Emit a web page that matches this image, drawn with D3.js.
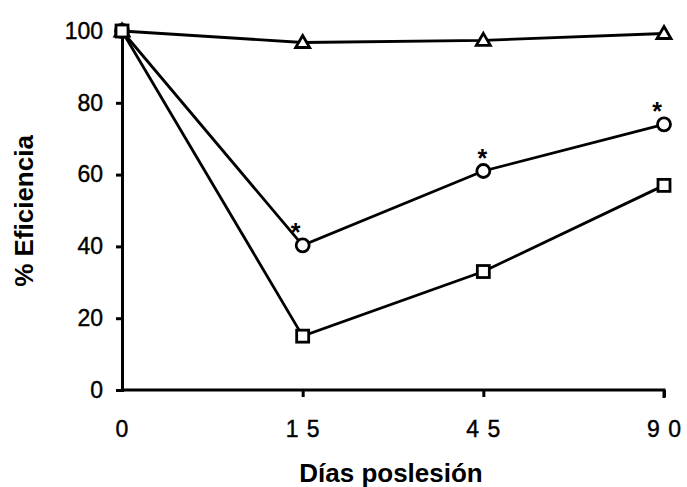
<!DOCTYPE html>
<html>
<head>
<meta charset="utf-8">
<script src="https://cdn.jsdelivr.net/npm/d3@7"></script>
<style>
  body { margin: 0; background: #fff; }
  text { font-family: "Liberation Sans", Arial, sans-serif; fill: #000; }
</style>
</head>
<body>
<div id="chart"></div>
<script>
// data
const days = ["0", "15", "45", "90"];
const dayLabels = ["0", "1 5", "4 5", "9 0"];
const yTicks = [0, 20, 40, 60, 80, 100];
const triangleVals = [100, 96.8, 97.4, 99.3];
const circleVals = [100, 40.3, 61, 74];
const squareVals = [100, 15, 33, 57];
const starMarked = [false, true, true, true]; // asterisks over the circle series

const W = 687, H = 487;
const margin = {top: 31, right: 23, bottom: 97, left: 122};
const innerW = W - margin.left - margin.right,
      innerH = H - margin.top - margin.bottom;

const svg = d3.select("#chart").append("svg")
  .attr("width", W).attr("height", H);
const g = svg.append("g").attr("transform", `translate(${margin.left},${margin.top})`);

const x = d3.scalePoint().domain(days).range([0, innerW]);
const y = d3.scaleLinear().domain([0, 100]).range([innerH, 0]);

// axes
const yAxis = g.append("g").call(d3.axisLeft(y).tickValues(yTicks).tickSize(6).tickPadding(13));
const xAxis = g.append("g").attr("transform", `translate(0,${innerH})`)
  .call(d3.axisBottom(x).tickSize(7).tickPadding(24).tickFormat((d, i) => dayLabels[i]));
[yAxis, xAxis].forEach(a => {
  a.attr("font-family", null);
  a.select(".domain").attr("stroke", "#000").attr("stroke-width", 3);
  a.selectAll(".tick line").attr("stroke", "#000").attr("stroke-width", 3);
  a.selectAll(".tick text").style("font-size", "23px").attr("fill", "#000")
    .attr("stroke", "#000").attr("stroke-width", 0.4);
});
xAxis.selectAll(".tick text").style("letter-spacing", "1px");
xAxis.select(".domain").attr("d", `M0,0H${innerW}V8`);
xAxis.selectAll(".tick").filter(d => d === "0").select("line").remove();

// lines
const line = d3.line().x((d, i) => x(days[i])).y(d => y(d));
[triangleVals, circleVals, squareVals].forEach(vals => {
  g.append("path").datum(vals).attr("d", line)
    .attr("fill", "none").attr("stroke", "#000").attr("stroke-width", 2.8);
});

// markers
const marker = (sel, type, vals) => {
  const pts = sel.selectAll(null).data(vals).enter().append("g")
    .attr("transform", (d, i) => `translate(${x(days[i])},${y(d)})`);
  if (type === "circle") {
    pts.append("circle").attr("r", 6.5);
  } else if (type === "square") {
    pts.append("rect").attr("x", -6).attr("y", -6).attr("width", 12).attr("height", 12);
  } else {
    pts.append("path").attr("d", "M0,-7L7,5L-7,5Z");
  }
  pts.selectAll("*").attr("fill", "#fff").attr("stroke", "#000").attr("stroke-width", 2.8);
};
marker(g, "triangle", triangleVals);
marker(g, "circle", circleVals);
marker(g, "square", squareVals);

// significance asterisks
const starDx = [0, -7, -1, -7];
g.selectAll(".star").data(circleVals.map((v, i) => ({v, i})).filter(d => starMarked[d.i]))
  .enter().append("text").attr("class", "star")
  .attr("x", d => x(days[d.i]) + starDx[d.i])
  .attr("y", d => y(d.v) - 4)
  .attr("text-anchor", "middle").style("font-size", "25px").attr("font-weight", "bold")
  .text("*");

// axis titles
svg.append("text").attr("x", 391).attr("y", 482)
  .attr("text-anchor", "middle").style("font-size", "26px").attr("font-weight", "bold")
  .text("Días poslesión");
svg.append("text").attr("transform", `translate(33,${211}) rotate(-90)`)
  .attr("text-anchor", "middle").style("font-size", "26px").attr("font-weight", "bold")
  .text("% Eficiencia");
</script>
</body>
</html>
